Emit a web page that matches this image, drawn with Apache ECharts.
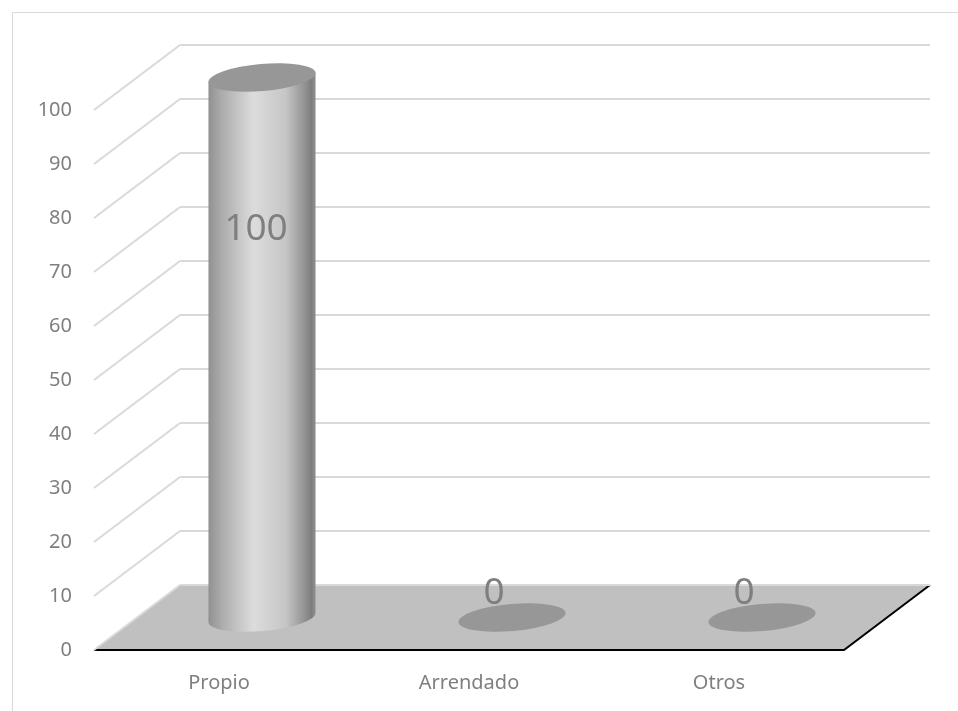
<!DOCTYPE html>
<html>
<head>
<meta charset="utf-8">
<script src="https://cdn.jsdelivr.net/npm/echarts@6/dist/echarts.min.js"></script>
<style>
  html, body { margin: 0; padding: 0; background: #fff; }
  #chart { width: 958px; height: 711px; }
</style>
</head>
<body>
<div id="chart"></div>
<script>
const categories = ['Propio', 'Arrendado', 'Otros'];
const values = [100, 0, 0];
const yTicks = [0, 10, 20, 30, 40, 50, 60, 70, 80, 90, 100];

// depth of the fake 3d box
const DX = 86;
const DY = -65;
const TILT = -5 * Math.PI / 180;
const GRID_COLOR = '#d9d9d9';
const TEXT_COLOR = '#7f7f7f';

function ellipsePath(cx, cy, rx, ry) {
  const c = Math.cos(TILT), s = Math.sin(TILT);
  const deg = TILT * 180 / Math.PI;
  const x1 = cx - rx * c, y1 = cy - rx * s;
  const x2 = cx + rx * c, y2 = cy + rx * s;
  return 'M' + x1 + ' ' + y1 +
    ' A' + rx + ' ' + ry + ' ' + deg + ' 1 0 ' + x2 + ' ' + y2 +
    ' A' + rx + ' ' + ry + ' ' + deg + ' 1 0 ' + x1 + ' ' + y1 + ' Z';
}

function bodyPath(cx, ty, by, rx, ry) {
  const c = Math.cos(TILT), s = Math.sin(TILT);
  const deg = TILT * 180 / Math.PI;
  return 'M' + (cx - rx * c) + ' ' + (ty - rx * s) +
    ' L' + (cx - rx * c) + ' ' + (by - rx * s) +
    ' A' + rx + ' ' + ry + ' ' + deg + ' 0 0 ' + (cx + rx * c) + ' ' + (by + rx * s) +
    ' L' + (cx + rx * c) + ' ' + (ty + rx * s) + ' Z';
}

function renderWall(params, api) {
  const v = api.value(1);
  const cs = params.coordSys;
  const y = api.coord([0, v])[1];
  const x0 = cs.x, x1 = cs.x + cs.width;
  const children = [];
  if (v === 0) {
    children.push({
      type: 'polygon',
      shape: { points: [[x0, y], [x0 + DX, y + DY], [x1 + DX, y + DY], [x1, y]] },
      style: { fill: '#c0c0c0', stroke: null }
    });
    children.push({
      type: 'polyline',
      shape: { points: [[x0, y], [x1, y], [x1 + DX, y + DY]] },
      style: { stroke: '#000', lineWidth: 2, fill: null }
    });
  }
  children.push({
    type: 'line',
    shape: { x1: x0, y1: y, x2: x0 + DX, y2: y + DY },
    style: { stroke: GRID_COLOR, lineWidth: 2 }
  });
  children.push({
    type: 'line',
    shape: { x1: x0 + DX, y1: y + DY, x2: x1 + DX, y2: y + DY },
    style: { stroke: GRID_COLOR, lineWidth: 2 }
  });
  return { type: 'group', children: children };
}

function renderCylinder(params, api) {
  const i = api.value(0);
  const v = api.value(1);
  const base = api.coord([i, 0]);
  const top = api.coord([i, v]);
  const cx = base[0] + DX / 2;
  const by = base[1] + DY / 2;
  const ty = top[1] + DY / 2;
  const rx = api.size([1, 0])[0] * 0.43 / 2;
  const ry = 13.5;
  const children = [];
  if (v > 0) {
    children.push({
      type: 'path',
      shape: { pathData: bodyPath(cx, ty, by, rx, ry) },
      style: {
        fill: new echarts.graphic.LinearGradient(0, 0, 1, 0, [
          { offset: 0, color: '#909090' },
          { offset: 0.12, color: '#ababab' },
          { offset: 0.42, color: '#dcdcdc' },
          { offset: 0.72, color: '#c6c6c6' },
          { offset: 0.9, color: '#919191' },
          { offset: 0.96, color: '#7e7e7e' },
          { offset: 1, color: '#929292' }
        ]),
        stroke: null
      }
    });
  }
  children.push({
    type: 'path',
    shape: { pathData: ellipsePath(cx, ty, rx, ry) },
    style: { fill: '#979797', stroke: null }
  });
  const labelY = api.coord([i, v * 0.675])[1] + DY / 2 - 24;
  children.push({
    type: 'text',
    style: {
      text: String(v),
      x: cx + (v > 0 ? -6 : -18),
      y: labelY,
      textAlign: 'center',
      textVerticalAlign: 'middle',
      fill: TEXT_COLOR,
      fontSize: 37,
      fontFamily: 'Noto Sans'
    }
  });
  return { type: 'group', children: children };
}

const chart = echarts.init(document.getElementById('chart'));
chart.setOption({
  animation: false,
  textStyle: { fontFamily: 'Noto Sans' },
  graphic: [{
    type: 'rect',
    left: 10, top: 10,
    shape: { width: 1000, height: 1000 },
    style: { fill: null, stroke: GRID_COLOR, lineWidth: 1 },
    z: -10
  }],
  grid: { left: 94, right: 114, top: 110, bottom: 61 },
  xAxis: {
    type: 'category',
    data: categories,
    axisLine: { show: false },
    axisTick: { show: false },
    axisLabel: { color: TEXT_COLOR, fontSize: 20, margin: 23 }
  },
  yAxis: {
    type: 'value',
    min: 0, max: 100, interval: 10,
    axisLine: { show: false },
    axisTick: { show: false },
    splitLine: { show: false },
    axisLabel: { color: TEXT_COLOR, fontSize: 20, margin: 22, padding: [10, 0, 0, 0] }
  },
  series: [
    {
      type: 'custom',
      z: 1,
      encode: { x: 0, y: 1 },
      renderItem: renderWall,
      data: yTicks.map(function (t) { return [0, t]; })
    },
    {
      type: 'custom',
      z: 3,
      encode: { x: 0, y: 1 },
      renderItem: renderCylinder,
      data: values.map(function (v, i) { return [i, v]; })
    }
  ]
});
</script>
</body>
</html>
